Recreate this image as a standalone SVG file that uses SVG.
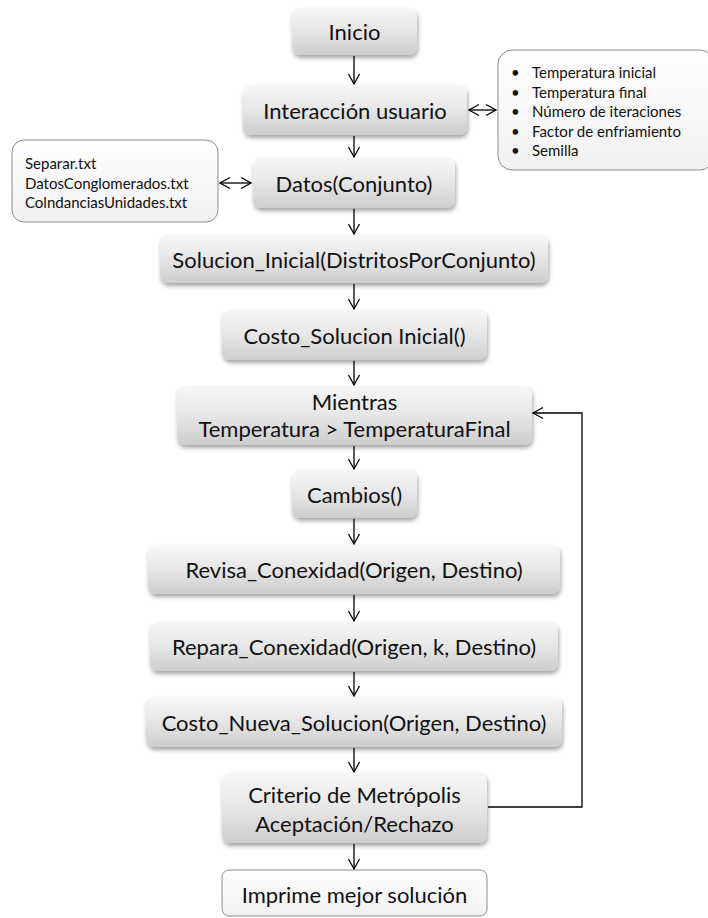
<svg xmlns="http://www.w3.org/2000/svg" width="708" height="918" viewBox="0 0 708 918">
<defs>
<linearGradient id="g" x1="0" y1="0" x2="0" y2="1">
<stop offset="0" stop-color="#f7f7f7"/>
<stop offset="0.5" stop-color="#e6e6e6"/>
<stop offset="1" stop-color="#cdcdcd"/>
</linearGradient>
<linearGradient id="gw" x1="0" y1="0" x2="0" y2="1">
<stop offset="0" stop-color="#ffffff"/>
<stop offset="1" stop-color="#f1f1f1"/>
</linearGradient>
<filter id="sh" x="-10%" y="-20%" width="120%" height="150%">
<feDropShadow dx="1" dy="3" stdDeviation="2" flood-color="#000" flood-opacity="0.35"/>
</filter>
<marker id="ah" markerWidth="14" markerHeight="14" refX="11" refY="7" orient="auto-start-reverse" markerUnits="userSpaceOnUse">
<path d="M1,1.5 L11,7 L1,12.5" fill="none" stroke="#000" stroke-width="1.3"/>
</marker>
</defs>
<style>
.b{fill:url(#g);filter:url(#sh);}
.w{fill:url(#gw);stroke:#8c8c8c;stroke-width:1;}
.t{font-family:Lato,"Liberation Sans",sans-serif;font-size:22px;fill:#111;text-anchor:middle;dominant-baseline:central;}
.s{font-family:Lato,"Liberation Sans",sans-serif;font-size:15px;fill:#111;dominant-baseline:central;}
.c{fill:none;stroke:#000;stroke-width:1.3;}
</style>
<rect width="708" height="918" fill="#fff"/>
<g id="inicio"><rect class="b" x="292" y="8" width="125" height="47" rx="8"/><text class="t" x="354.5" y="31">Inicio</text></g>
<g id="interaccion"><rect class="b" x="243" y="85" width="224" height="50" rx="8"/><text class="t" x="355" y="110">Interacción usuario</text></g>
<g id="parametros"><rect class="w" x="498" y="50" width="216" height="120" rx="14"/>
<text class="s" x="511" y="72">•</text><text class="s" x="532" y="72">Temperatura inicial</text>
<text class="s" x="511" y="91.5">•</text><text class="s" x="532" y="91.5">Temperatura final</text>
<text class="s" x="511" y="111">•</text><text class="s" x="532" y="111">Número de iteraciones</text>
<text class="s" x="511" y="130.5">•</text><text class="s" x="532" y="130.5">Factor de enfriamiento</text>
<text class="s" x="511" y="150">•</text><text class="s" x="532" y="150">Semilla</text></g>
<g id="archivos"><rect class="w" x="12" y="140" width="206" height="82" rx="12"/>
<text class="s" x="25" y="163">Separar.txt</text>
<text class="s" x="25" y="182.5">DatosConglomerados.txt</text>
<text class="s" x="25" y="202">ColndanciasUnidades.txt</text></g>
<g id="datos"><rect class="b" x="253" y="158" width="202" height="50" rx="8"/><text class="t" x="354" y="183">Datos(Conjunto)</text></g>
<g id="solucion_inicial"><rect class="b" x="160" y="235" width="388" height="48" rx="8"/><text class="t" x="354" y="259">Solucion_Inicial(DistritosPorConjunto)</text></g>
<g id="costo_inicial"><rect class="b" x="222" y="310" width="265" height="50" rx="8"/><text class="t" x="354.5" y="335">Costo_Solucion Inicial()</text></g>
<g id="mientras"><rect class="b" x="177" y="386" width="355" height="59" rx="8"/><text class="t" x="354.5" y="401">Mientras</text><text class="t" x="354.5" y="428">Temperatura &gt; TemperaturaFinal</text></g>
<g id="cambios"><rect class="b" x="292" y="470" width="125" height="48" rx="8"/><text class="t" x="354.5" y="494">Cambios()</text></g>
<g id="revisa"><rect class="b" x="148" y="545" width="412" height="49" rx="8"/><text class="t" x="354" y="569.5">Revisa_Conexidad(Origen, Destino)</text></g>
<g id="repara"><rect class="b" x="150" y="622" width="408" height="49" rx="8"/><text class="t" x="354" y="646.5">Repara_Conexidad(Origen, k, Destino)</text></g>
<g id="costo_nueva"><rect class="b" x="146" y="697" width="416" height="50" rx="8"/><text class="t" x="354" y="722">Costo_Nueva_Solucion(Origen, Destino)</text></g>
<g id="criterio"><rect class="b" x="222" y="773" width="265" height="70" rx="8"/><text class="t" x="354.5" y="794">Criterio de Metrópolis</text><text class="t" x="354.5" y="823">Aceptación/Rechazo</text></g>
<g id="imprime"><rect class="w" x="222" y="870" width="265" height="46" rx="7"/><text class="t" x="354.5" y="894">Imprime mejor solución</text></g>
<g id="connectors">
<line class="c" x1="354" y1="56" x2="354" y2="84" marker-end="url(#ah)"/>
<line class="c" x1="354" y1="136" x2="354" y2="157" marker-end="url(#ah)"/>
<line class="c" x1="354" y1="209" x2="354" y2="234" marker-end="url(#ah)"/>
<line class="c" x1="354" y1="284" x2="354" y2="309" marker-end="url(#ah)"/>
<line class="c" x1="354" y1="361" x2="354" y2="385" marker-end="url(#ah)"/>
<line class="c" x1="354" y1="446" x2="354" y2="469" marker-end="url(#ah)"/>
<line class="c" x1="354" y1="519" x2="354" y2="544" marker-end="url(#ah)"/>
<line class="c" x1="354" y1="595" x2="354" y2="621" marker-end="url(#ah)"/>
<line class="c" x1="354" y1="672" x2="354" y2="696" marker-end="url(#ah)"/>
<line class="c" x1="354" y1="748" x2="354" y2="772" marker-end="url(#ah)"/>
<line class="c" x1="354" y1="844" x2="354" y2="869" marker-end="url(#ah)"/>
<line class="c" x1="469" y1="110" x2="496" y2="110" marker-start="url(#ah)" marker-end="url(#ah)"/>
<line class="c" x1="220" y1="183" x2="251" y2="183" marker-start="url(#ah)" marker-end="url(#ah)"/>
<polyline class="c" points="488,807 582,807 582,413 533,413" marker-end="url(#ah)"/>
</g>
</svg>
